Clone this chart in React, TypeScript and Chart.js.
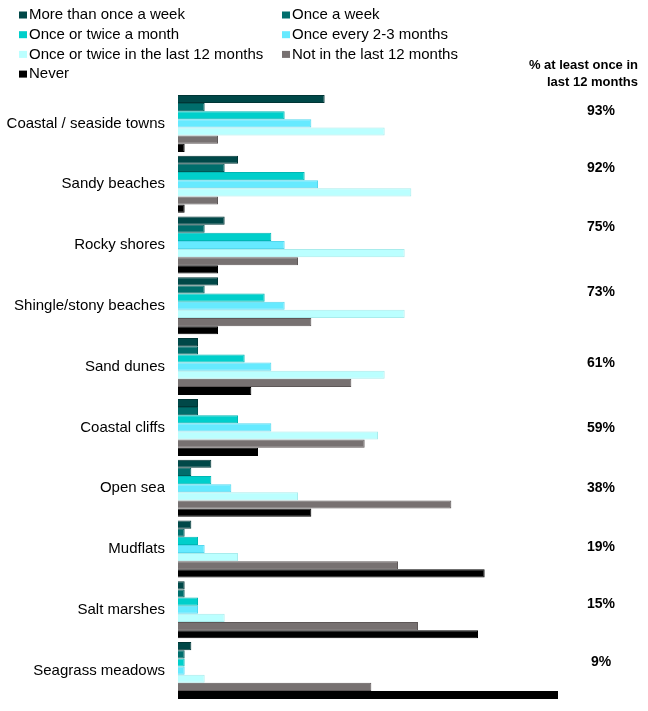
import { useEffect, useRef } from "react"
import { Chart, registerables } from "chart.js"

Chart.register(...registerables)

const categories = [
  "Coastal / seaside towns",
  "Sandy beaches",
  "Rocky shores",
  "Shingle/stony beaches",
  "Sand dunes",
  "Coastal cliffs",
  "Open sea",
  "Mudflats",
  "Salt marshes",
  "Seagrass meadows",
]

const moreThanOnceAWeek = [22, 9, 7, 6, 3, 3, 5, 2, 1, 2]
const onceAWeek = [4, 7, 4, 4, 3, 3, 2, 1, 1, 1]
const onceOrTwiceAMonth = [16, 19, 14, 13, 10, 9, 5, 3, 3, 1]
const onceEvery2to3Months = [20, 21, 16, 16, 14, 14, 8, 4, 3, 1]
const onceOrTwiceLast12 = [31, 35, 34, 34, 31, 30, 18, 9, 7, 4]
const notInLast12 = [6, 6, 18, 20, 26, 28, 41, 33, 36, 29]
const never = [1, 1, 6, 6, 11, 12, 20, 46, 45, 57]

// right-hand column, "% at least once in last 12 months"
const atLeastOnce = ["93%", "92%", "75%", "73%", "61%", "59%", "38%", "19%", "15%", "9%"]
// vertical nudge of each % label from its group centre (px)
const pctNudge = [-12, -16, -18, -14, -3, 1, 0, -2, -6, -8]

const FONT = "'Liberation Sans', Arial, sans-serif"

const overlay = {
  id: "overlay",
  afterDraw(chart: any) {
    const { ctx } = chart
    const y = chart.scales.y
    ctx.save()
    ctx.fillStyle = "#000"

    // category labels
    ctx.font = `15px ${FONT}`
    ctx.textAlign = "right"
    ctx.textBaseline = "middle"
    categories.forEach((c, i) => ctx.fillText(c, 165, y.getPixelForValue(i)))

    // % labels
    ctx.font = `bold 14px ${FONT}`
    ctx.textAlign = "center"
    atLeastOnce.forEach((t, i) => ctx.fillText(t, 601, y.getPixelForValue(i) + pctNudge[i]))

    // column header
    ctx.font = `bold 13px ${FONT}`
    ctx.textAlign = "right"
    ctx.fillText("% at least once in", 638, 65)
    ctx.fillText("last 12 months", 638, 82)

    // legend, two columns
    ctx.font = `15px ${FONT}`
    ctx.textAlign = "left"
    chart.data.datasets.forEach((ds: any, i: number) => {
      const col = i % 2
      const row = Math.floor(i / 2)
      const x = 19 + col * 263
      const cy = 15 + row * 19.7
      ctx.fillStyle = ds.backgroundColor
      ctx.fillRect(x, cy - 3.5, 8, 7)
      ctx.fillStyle = "#000"
      ctx.fillText(ds.label, x + 10, cy)
    })
    ctx.restore()
  },
}

export default function App() {
  const chartRef = useRef<HTMLCanvasElement>(null)
  const chartInstance = useRef<Chart | null>(null)

  useEffect(() => {
    document.body.style.margin = "0"
    if (!chartRef.current) return
    if (chartInstance.current) chartInstance.current.destroy()

    const series = [
      { label: "More than once a week", data: moreThanOnceAWeek, bg: "#004848", bd: "#003535" },
      { label: "Once a week", data: onceAWeek, bg: "#006E6C", bd: "#005856" },
      { label: "Once or twice a month", data: onceOrTwiceAMonth, bg: "#00CFCB", bd: "#00B8B5" },
      { label: "Once every 2-3 months", data: onceEvery2to3Months, bg: "#66EAFF", bd: "#55D8EE" },
      { label: "Once or twice in the last 12 months", data: onceOrTwiceLast12, bg: "#BBFFFF", bd: "#A8ECEC" },
      { label: "Not in the last 12 months", data: notInLast12, bg: "#777171", bd: "#5E5858" },
      { label: "Never", data: never, bg: "#000000", bd: "#000000" },
    ]

    const ctx = chartRef.current.getContext("2d")
    if (ctx) {
      chartInstance.current = new Chart(ctx, {
        type: "bar",
        data: {
          labels: categories,
          datasets: series.map((s) => ({
            label: s.label,
            data: s.data,
            backgroundColor: s.bg,
            borderColor: s.bd,
            borderWidth: 1,
            barPercentage: 1,
            categoryPercentage: 0.9375,
          })),
        },
        options: {
          indexAxis: "y",
          responsive: false,
          animation: false,
          layout: { padding: { top: 93, left: 178, right: 70, bottom: 10 } },
          plugins: {
            legend: { display: false },
            tooltip: { enabled: false },
          },
          scales: {
            x: { display: false, min: 0, max: 60 },
            y: { display: false },
          },
        },
        plugins: [overlay],
      })
    }

    return () => {
      if (chartInstance.current) {
        chartInstance.current.destroy()
        chartInstance.current = null
      }
    }
  }, [])

  return (
    <div style={{ width: 648, height: 711 }}>
      <canvas ref={chartRef} width={648} height={711} style={{ display: "block" }} />
    </div>
  )
}
